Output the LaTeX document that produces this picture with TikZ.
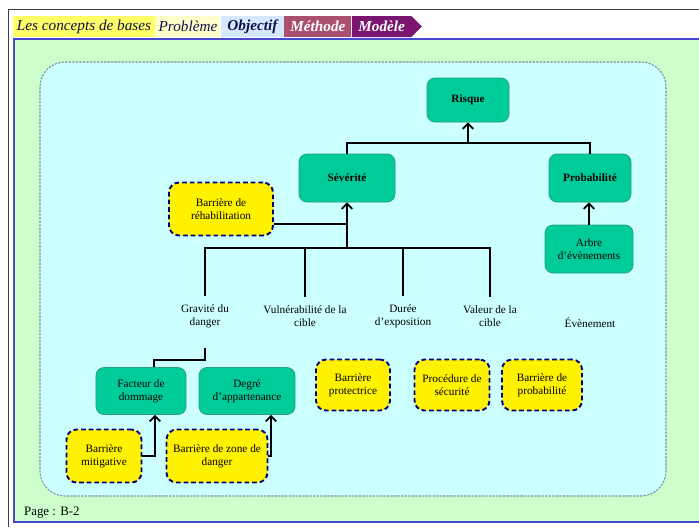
\documentclass[tikz,border=0pt]{standalone}
\usepackage{fontspec}
\setmainfont{Liberation Serif}
\usepackage{tikz}
\usetikzlibrary{arrows.meta,calc,positioning,shapes.symbols}
\definecolor{pagegreen}{HTML}{CCFFCC}
\definecolor{framecyan}{HTML}{CCFFFF}
\definecolor{framegray}{HTML}{8090A8}
\definecolor{borderblue}{HTML}{4848D0}
\definecolor{boxgreen}{HTML}{00CC99}
\definecolor{boxgreenline}{HTML}{2A9C80}
\definecolor{barnavy}{HTML}{000080}
\definecolor{tabyellow}{HTML}{FFFF66}
\definecolor{tabcream}{HTML}{FFFFCC}
\definecolor{tabblue}{HTML}{D4E8FF}
\definecolor{tabrose}{HTML}{A8506E}
\definecolor{tabpurple}{HTML}{7A1570}
\definecolor{tabnavy}{HTML}{10104A}
\newcommand{\boxfont}{\fontsize{9.6}{11.2}\selectfont}
\newcommand{\tabfont}{\fontsize{13}{13}\selectfont\itshape}

\tikzset{
  gbox/.style={draw=boxgreenline, fill=boxgreen, rounded corners=0.24cm, line width=0.6pt,
    align=center, font=\boxfont, inner sep=1pt},
  gboxb/.style={gbox, font=\boxfont\bfseries},
  ybox/.style={draw=barnavy, fill=yellow, rounded corners=0.3cm, line width=1.6pt,
    dash pattern=on 4pt off 2.5pt, align=center, font=\boxfont, inner sep=1pt},
  lbl/.style={align=center, font=\boxfont, inner sep=0.25cm},
  link/.style={line width=1.5pt},
  arr/.style={line width=1.5pt, -{Straight Barb[length=4.5pt,width=9pt]}},
  tab/.style={minimum height=0.63cm, inner sep=0pt, font=\tabfont}
}

\begin{document}
\begin{tikzpicture}[x=0.03cm, y=-0.03cm]
            \clip (0,0) rectangle (699,527);
            % Page frame and background
            \draw[line width=0.8pt, black!75] (8,527) -- (8,9) -- (699,9);
            \draw[borderblue, line width=2.5pt, fill=pagegreen] (14,39) rectangle (712,522);
            % Tabs on top
            \node[tab, fill=tabyellow, minimum width=4.26cm, text=tabnavy] (tbase) at (84,26.5) {Les concepts de bases};
            \node[tab, fill=tabcream, minimum width=1.95cm, text=tabnavy, right=0pt of tbase] (tprob) {Problème};
            \node[tab, fill=tabblue, minimum width=1.89cm, text=tabnavy, font=\tabfont\bfseries, right=0pt of tprob] (tobj) {Objectif};
            \node[tab, fill=tabrose, minimum width=2.01cm, text=white, font=\tabfont\bfseries, right=0pt of tobj] (tmeth) {Méthode};
            \node[tab, signal, signal to=east, fill=tabpurple, minimum width=2.1cm, text=white, font=\tabfont\bfseries, right=0pt of tmeth] (tmod) {Modèle};
            % Region of the diagram
            \draw[framegray, fill=framecyan, line width=0.9pt, dash pattern=on 2pt off 1pt, rounded corners=0.75cm] (40,62) rectangle (666,496);
            % Green boxes
            \node[gboxb, minimum width=2.46cm, minimum height=1.32cm] (risque) at (468,100) {Risque};
            \node[gboxb, minimum width=2.88cm, minimum height=1.44cm] (sev) at (347,178) {Sévérité};
            \node[gboxb, minimum width=2.46cm, minimum height=1.44cm] (prob) at (590,178) {Probabilité};
            \node[gbox, minimum width=2.64cm, minimum height=1.44cm] (arbre) at (589,249) {Arbre\\d’évènements};
            \node[gbox, minimum width=2.7cm, minimum height=1.41cm] (fac) at (141,391) {Facteur de\\dommage};
            \node[gbox, minimum width=2.88cm, minimum height=1.41cm] (deg) at (247,391) {Degré\\d’appartenance};
            % Barriers
            \node[ybox, minimum width=3.12cm, minimum height=1.59cm] (reh) at (221,209) {Barrière de\\réhabilitation};
            \node[ybox, minimum width=2.22cm, minimum height=1.53cm] (prot) at (353,385) {Barrière\\protectrice};
            \node[ybox, minimum width=2.25cm, minimum height=1.53cm] (proc) at (452,385) {Procédure de\\sécurité};
            \node[ybox, minimum width=2.4cm, minimum height=1.53cm] (bprob) at (542,385) {Barrière de\\probabilité};
            \node[ybox, minimum width=2.25cm, minimum height=1.59cm] (mit) at (104,456) {Barrière\\mitigative};
            \node[ybox, minimum width=3.03cm, minimum height=1.59cm] (zone) at (217,456) {Barrière de zone de\\danger};
            % Factors of the severity
            \node[lbl] (gra) at (205,316) {Gravité du\\danger};
            \node[lbl] (vul) at (305,316) {Vulnérabilité de la\\cible};
            \node[lbl] (dur) at (403,316) {Durée\\d’exposition};
            \node[lbl] (val) at (490,316) {Valeur de la\\cible};
            \node[lbl] (eve) at (590,323) {Évènement};
            % Connectors
            \coordinate (top) at (468,143);
            \draw[link] (sev.north) |- (top) -| (prob.north);
            \draw[arr] (top) -- (risque.south);
            \coordinate (bar) at (347,248);
            \draw[link] (gra.north) |- (bar) -| (val.north);
            \draw[link] (vul.north) -- (vul.north |- bar);
            \draw[link] (dur.north) -- (dur.north |- bar);
            \draw[arr] (bar) -- (sev.south);
            \coordinate (rj) at ([yshift=-0.45cm]reh.east);
            \draw[line width=1pt] (rj) -- (rj -| sev.south);
            \draw[arr] (arbre.north) -- (arbre.north |- prob.south);
            \draw[link] ([yshift=-0.36cm]gra.south) -- ++(0,12) -| ([xshift=0.39cm]fac.north);
            \draw[arr] (mit.east) -| ([xshift=0.42cm]fac.south);
            \draw[arr] (zone.east) -| ([xshift=0.72cm]deg.south);
            % Page number
            \node[anchor=west, font=\fontsize{11}{11}\selectfont] (page) at (20,513) {Page : B-2};
          \end{tikzpicture}
\end{document}
